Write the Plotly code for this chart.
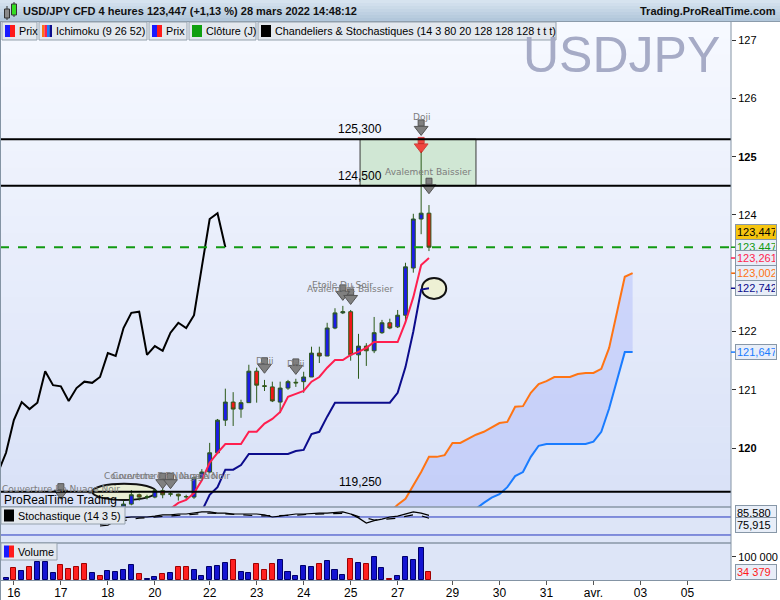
import plotly.graph_objects as go

W, H = 780, 600


def px(x):
    return x / W


def py(y):
    return 1 - y / H


# 4h bars: index 0 = first bar of the window, 54 = current bar (28 mars 12:00)
candle_idx = list(range(15, 55))
opens = [118.97, 119.04, 119.20, 119.16, 119.16, 119.27, 119.21, 119.21, 119.17, 119.16,
         119.49, 119.59, 119.92, 120.48, 120.79, 120.67, 120.78, 121.32, 121.07, 121.05,
         120.79, 121.03, 121.13, 121.14, 121.22, 121.63, 121.58, 122.06, 122.32, 122.34,
         121.60, 121.75, 121.67, 121.98, 122.15, 122.08, 122.28, 123.09, 123.93, 124.03]
highs = [119.10, 119.28, 119.22, 119.20, 119.30, 119.32, 119.26, 119.22, 119.20, 119.50,
         119.64, 120.09, 120.50, 121.02, 120.96, 120.83, 121.43, 121.38, 121.17, 121.14,
         121.14, 121.17, 121.19, 121.31, 121.74, 121.74, 122.15, 122.40, 122.44, 122.37,
         121.96, 121.80, 122.25, 122.20, 122.22, 122.37, 123.18, 124.02, 125.09, 124.17]
lows = [118.90, 119.02, 119.10, 119.12, 119.14, 119.14, 119.17, 119.10, 119.12, 119.13,
        119.45, 119.57, 119.90, 120.38, 120.38, 120.52, 120.78, 120.78, 120.98, 120.79,
        120.60, 121.00, 121.05, 120.95, 121.22, 121.46, 121.58, 122.04, 122.30, 121.50,
        121.19, 121.41, 121.63, 121.96, 122.04, 122.06, 122.15, 123.01, 123.67, 123.38]
closes = [119.04, 119.20, 119.16, 119.165, 119.27, 119.20, 119.215, 119.18, 119.165, 119.49,
          119.59, 119.92, 120.48, 120.79, 120.67, 120.78, 121.32, 121.08, 121.06, 120.81,
          121.03, 121.14, 121.12, 121.22, 121.63, 121.58, 122.06, 122.32, 122.34, 121.60,
          121.75, 121.67, 121.98, 122.15, 122.06, 122.28, 123.11, 123.93, 124.03, 123.447]

# Ichimoku (9 26 52)
tenkan_idx = list(range(21, 55))
tenkan = [118.96, 119.06, 119.11, 119.23, 119.45, 119.75, 119.92, 120.07, 120.07, 120.07,
          120.28, 120.28, 120.42, 120.50, 120.62, 120.88, 120.93, 120.98, 121.14, 121.22,
          121.38, 121.51, 121.51, 121.60, 121.65, 121.72, 121.82, 121.82, 121.82, 121.82,
          122.16, 122.59, 123.14, 123.261]
kijun_idx = list(range(25, 55))
kijun = [118.92, 119.20, 119.33, 119.63, 119.63, 119.71, 119.90, 119.90, 119.90, 119.90,
         119.90, 119.90, 119.95, 119.97, 120.24, 120.28, 120.54, 120.78, 120.78, 120.78,
         120.78, 120.78, 120.78, 120.78, 120.78, 120.95, 121.39, 122.00, 122.72, 122.742]
span_a_idx = list(range(49, 81))
span_a = [118.90, 119.03, 119.13, 119.35, 119.59, 119.85, 119.85, 119.88, 120.09, 120.09,
          120.16, 120.23, 120.28, 120.36, 120.43, 120.45, 120.71, 120.72, 120.95, 121.10,
          121.15, 121.22, 121.22, 121.22, 121.27, 121.29, 121.29, 121.36, 121.72, 122.32,
          122.94, 123.002]
span_b_idx = list(range(59, 81))
span_b = [118.90, 118.96, 119.06, 119.15, 119.21, 119.33, 119.52, 119.59, 119.85, 120.04,
          120.07, 120.07, 120.07, 120.07, 120.07, 120.07, 120.11, 120.28, 120.68, 121.17,
          121.647, 121.647]
lag = 26

# Stochastique (14 3 5)
stoch_idx = list(range(12, 55))
stoch_k = [50, 53, 67, 77, 80, 80, 80, 83, 87, 87, 90, 90, 93, 97, 97, 93, 93, 90, 90, 90,
           90, 87, 80, 83, 87, 90, 90, 92, 93, 93, 95, 97, 90, 77, 60, 68, 73, 80, 83, 90,
           97, 93, 85.58]
stoch_d = [55, 58, 63, 68, 73, 76, 78, 80, 82, 83, 85, 88, 91, 93, 93, 92, 90, 88, 86, 84,
           84, 84, 84, 84, 84, 86, 88, 89, 90, 91, 92, 92, 90, 81, 76, 70, 72, 75, 76, 82,
           87, 84, 75.915]

volume = [8600, 50300, 37400, 54600, 77400, 78700, 30100, 64500, 47300, 54600,
          68800, 30100, 15900, 37400, 34400, 41700, 64500, 25800, 4300, 11600,
          25800, 30100, 55900, 55900, 43000, 15900, 55900, 58800, 75000, 86000,
          34400, 30100, 68000, 43000, 68000, 86000, 35000, 16500, 60200, 55900,
          68800, 81700, 43000, 21500, 90300, 73100, 68800, 98900, 51600, 4300,
          15900, 98900, 86000, 137600, 34379]
vol_dir = ["b", "r", "b", "r", "b", "b", "b", "r", "r", "r",
           "r", "b", "r", "b", "b", "b", "b", "r", "b", "b",
           "r", "b", "r", "r", "b", "b", "b", "b", "b", "r",
           "b", "b", "r", "r", "r", "b", "b", "b", "b", "b",
           "r", "b", "b", "b", "r", "b", "r", "b", "b", "r",
           "b", "b", "b", "b", "r"]

day_ticks = [1, 7, 13, 19, 26, 32, 38, 44, 50, 57, 63, 69, 75, 81, 87]
day_labels = ["16", "17", "18", "20", "22", "23", "24", "25", "27",
              "29", "30", "31", "avr.", "03", "05"]

levels = [125.300, 124.500, 119.250]
last_price = 123.447

# detected patterns: bar, label, arrow tip price, label price
patterns = [
    (7, "Couverture En Nuage Noir", 119.15, 119.30),
    (20, "Couverture En Nuage Noir", 119.33, 119.52),
    (21, "Couverture En Nuage Noir", 119.33, 119.52),
    (33, "Doji", 121.31, 121.50),
    (37, "Doji", 121.29, 121.45),
    (43, "Etoile Du Soir", 122.56, 122.80),
    (44, "Avalement Baissier", 122.49, 122.73),
    (53, "Doji", 125.39, 125.68),
    (54, "Avalement Baissier", 124.39, 124.74),
]

PPU = 58.3  # pixels per yen on the price panel
FONT = "Liberation Sans, Arial, sans-serif"

fig = go.Figure()

# cloud
fig.add_trace(go.Scatter(x=span_a_idx, y=span_a, mode="lines",
                         line=dict(color="#ff7414", width=2), hoverinfo="skip"))
fig.add_trace(go.Scatter(x=span_b_idx, y=span_b, mode="lines", fill="tonexty",
                         fillcolor="rgba(170,182,250,0.42)",
                         line=dict(color="#1a7cff", width=2), hoverinfo="skip"))

fig.add_trace(go.Candlestick(
    x=candle_idx, open=opens, high=highs, low=lows, close=closes,
    increasing=dict(fillcolor="#1c1ce8", line=dict(color="#2c5a1a", width=1)),
    decreasing=dict(fillcolor="#f01818", line=dict(color="#2c5a1a", width=1)),
    whiskerwidth=0,
))

fig.add_trace(go.Scatter(x=tenkan_idx, y=tenkan, mode="lines",
                         line=dict(color="#ff1f4f", width=2)))
fig.add_trace(go.Scatter(x=kijun_idx, y=kijun, mode="lines",
                         line=dict(color="#0c0c8c", width=2)))

chikou_x = [k - lag for k, c in zip(candle_idx, closes) if k >= 25]
chikou_y = [c for k, c in zip(candle_idx, closes) if k >= 25]
fig.add_trace(go.Scatter(x=chikou_x, y=chikou_y, mode="lines",
                         line=dict(color="#000000", width=2)))

# pattern arrows
hi_by_idx = dict(zip(candle_idx, highs))
arrow_x = [p[0] for p in patterns]
fig.add_trace(go.Scatter(
    x=arrow_x, y=[p[2] + 11 / PPU for p in patterns], mode="markers",
    marker=dict(symbol="square", size=6, color="#808080",
                line=dict(color="#555555", width=1)), hoverinfo="skip"))
fig.add_trace(go.Scatter(
    x=arrow_x, y=[p[2] + 4.5 / PPU for p in patterns], mode="markers",
    marker=dict(symbol="triangle-down", size=12, color="#808080",
                line=dict(color="#555555", width=1)), hoverinfo="skip"))
# red alert arrow on the 125.09 high
fig.add_trace(go.Scatter(
    x=[53, 53], y=[hi_by_idx[53] + 11 / PPU, hi_by_idx[53] + 4.5 / PPU], mode="markers",
    marker=dict(symbol=["square", "triangle-down"], size=[6, 12], color="#ff0000",
                line=dict(color="#cc0000", width=1)), hoverinfo="skip"))

# stochastic
fig.add_trace(go.Scatter(x=stoch_idx, y=stoch_k, yaxis="y2", mode="lines",
                         line=dict(color="#000000", width=1.2)))
fig.add_trace(go.Scatter(x=stoch_idx, y=stoch_d, yaxis="y2", mode="lines",
                         line=dict(color="#000000", width=1.2, dash="dash")))

# volume
vol_fill = {"b": "#1414d2", "r": "#ff2020"}
vol_edge = {"b": "#00006a", "r": "#a00000"}
fig.add_trace(go.Bar(
    x=list(range(len(volume))), y=volume, yaxis="y3", width=0.64,
    marker=dict(color=[vol_fill[d] for d in vol_dir],
                line=dict(color=[vol_edge[d] for d in vol_dir], width=1)),
))

# ---------- decorations ----------
shapes = []


def mix(c0, c1, t):
    return "rgb(%d,%d,%d)" % tuple(round(a + (b - a) * t) for a, b in zip(c0, c1))


n = 30
for i in range(n):
    y0 = 22 + 485 * i / n
    y1 = 22 + 485 * (i + 1) / n + 0.6
    shapes.append(dict(type="rect", xref="paper", yref="paper", layer="below",
                       x0=0, x1=px(731), y0=py(y1), y1=py(y0),
                       fillcolor=mix((247, 249, 255), (216, 225, 247), (i + 0.5) / n),
                       line=dict(width=0)))
shapes.append(dict(type="rect", xref="paper", yref="paper", layer="below",
                   x0=0, x1=px(731), y0=py(580), y1=py(507),
                   fillcolor="#dde5f7", line=dict(width=0)))
# title bar
for i in range(7):
    shapes.append(dict(type="rect", xref="paper", yref="paper", layer="below",
                       x0=0, x1=1, y0=py(3 * (i + 1) + 0.5), y1=py(3 * i),
                       fillcolor=mix((214, 227, 239), (178, 199, 219), i / 6),
                       line=dict(width=0)))
shapes.append(dict(type="line", xref="paper", yref="paper", layer="above",
                   x0=0, x1=1, y0=py(21.5), y1=py(21.5), line=dict(color="#8b9bab", width=1)))
# title icon
shapes += [
    dict(type="line", xref="paper", yref="paper", x0=px(7), x1=px(7), y0=py(20), y1=py(6),
         line=dict(color="#333333", width=1)),
    dict(type="rect", xref="paper", yref="paper", x0=px(4.5), x1=px(9.5), y0=py(18), y1=py(9),
         fillcolor="#8a8a8a", line=dict(color="#333333", width=1)),
    dict(type="line", xref="paper", yref="paper", x0=px(14), x1=px(14), y0=py(17), y1=py(2),
         line=dict(color="#333333", width=1)),
    dict(type="rect", xref="paper", yref="paper", x0=px(11.5), x1=px(16.5), y0=py(15), y1=py(4),
         fillcolor="#33dd22", line=dict(color="#333333", width=1)),
]

# cloud / level drawings
shapes.append(dict(type="rect", xref="x", yref="y", layer="below",
                   x0=45.2, x1=60.0, y0=124.5, y1=125.3,
                   fillcolor="#d0e7d4", line=dict(color="#3a3a3a", width=1)))
shapes.append(dict(type="circle", xref="x", yref="y", layer="below",
                   x0=53.1, x1=56.2, y0=122.56, y1=122.92,
                   fillcolor="#eef0d4", line=dict(color="#111111", width=2)))
shapes.append(dict(type="circle", xref="x", yref="y", layer="below",
                   x0=11.0, x1=19.15, y0=119.11, y1=119.39,
                   fillcolor="#e9eed4", line=dict(color="#111111", width=2)))
for lv in levels:
    shapes.append(dict(type="line", xref="x domain", yref="y", layer="above",
                       x0=0, x1=1, y0=lv, y1=lv, line=dict(color="#000000", width=2)))
shapes.append(dict(type="line", xref="x domain", yref="y", layer="above",
                   x0=0, x1=1, y0=last_price, y1=last_price,
                   line=dict(color="#129a12", width=2, dash="dash")))
for lv in (80, 20):
    shapes.append(dict(type="line", xref="x domain", yref="y2", layer="below",
                       x0=0, x1=1, y0=lv, y1=lv, line=dict(color="#2536bf", width=1)))

# panel separators and frame
for yy in (507, 543):
    shapes.append(dict(type="line", xref="paper", yref="paper", layer="above",
                       x0=0, x1=px(731), y0=py(yy), y1=py(yy),
                       line=dict(color="#8796a6", width=1.5)))
shapes.append(dict(type="line", xref="paper", yref="paper", layer="above",
                   x0=px(731), x1=px(731), y0=py(580), y1=py(22),
                   line=dict(color="#8494a4", width=1)))
shapes.append(dict(type="line", xref="paper", yref="paper", layer="above",
                   x0=px(0.5), x1=px(0.5), y0=0, y1=py(22),
                   line=dict(color="#8494a4", width=1)))

# right-axis colored ticks
for val, col in [(last_price, "#129a12"), (tenkan[-1], "#ff1f4f"), (span_a[-1], "#ff7414"),
                 (kijun[-1], "#0c0c8c"), (span_b[-1], "#1a7cff")]:
    shapes.append(dict(type="line", xref="paper", yref="y", layer="above",
                       x0=px(731), x1=px(735), y0=val, y1=val, line=dict(color=col, width=1.5)))

# legend boxes
legend_items = [
    (2, 37, "Prix", ["#1a1aff", "#ff1a1a"]),
    (39, 147, "Ichimoku (9 26 52)", ["#ff7414", "#ff1f4f", "#1a7cff", "#0c0c8c"]),
    (149, 187, "Prix", ["#1a1aff", "#ff1a1a"]),
    (189, 256, "Clôture (J)", ["#10a010"]),
    (258, 556, "Chandeliers & Stochastiques (14 3 80 20 128 128 128 t t t)", ["#000000"]),
]
boxes = [(x0, x1, 22, 40, txt, cols) for x0, x1, txt, cols in legend_items]
boxes.append((1, 125, 507, 524, "Stochastique (14 3 5)", ["#000000"]))
boxes.append((1, 57, 543, 560, "Volume", ["#1a1aff", "#ff1a1a"]))

annotations = []
for x0, x1, y0, y1, txt, cols in boxes:
    shapes.append(dict(type="rect", xref="paper", yref="paper", layer="above",
                       x0=px(x0), x1=px(x1), y0=py(y1), y1=py(y0),
                       fillcolor="#e3e8ee", line=dict(color="#95a2ae", width=1)))
    iw = 10 / len(cols)
    for j, c in enumerate(cols):
        shapes.append(dict(type="rect", xref="paper", yref="paper", layer="above",
                           x0=px(x0 + 3 + j * iw), x1=px(x0 + 3 + (j + 1) * iw),
                           y0=py((y0 + y1) / 2 + 6), y1=py((y0 + y1) / 2 - 6),
                           fillcolor=c, line=dict(width=0)))
    annotations.append(dict(xref="paper", yref="paper", x=px(x0 + 15), y=py((y0 + y1) / 2),
                            xanchor="left", yanchor="middle", showarrow=False, text=txt,
                            font=dict(family=FONT, size=10.8, color="#000000")))

annotations += [
    dict(xref="paper", yref="paper", x=px(21), y=py(11), xanchor="left", yanchor="middle",
         showarrow=False,
         text="<b>USD/JPY CFD 4 heures 123,447 (+1,13 %) 28 mars 2022 14:48:12</b>",
         font=dict(family=FONT, size=11, color="#111111")),
    dict(xref="paper", yref="paper", x=px(778), y=py(11), xanchor="right", yanchor="middle",
         showarrow=False, text="<b>Trading.ProRealTime.com</b>",
         font=dict(family=FONT, size=11, color="#111111")),
    dict(xref="paper", yref="paper", x=px(621), y=py(55), xanchor="center", yanchor="middle",
         showarrow=False, text="USDJPY", font=dict(family=FONT, size=50, color="#a6abc6")),
    dict(xref="paper", yref="paper", x=px(2), y=py(500), xanchor="left", yanchor="middle",
         showarrow=False, text="ProRealTime Trading",
         font=dict(family=FONT, size=12, color="#000000")),
]
for lv in levels:
    annotations.append(dict(xref="paper", yref="y", x=px(384), y=lv, xanchor="right",
                            yanchor="bottom", yshift=1, showarrow=False,
                            text=f"{lv:.3f}".replace(".", ","),
                            font=dict(family=FONT, size=12, color="#000000")))
for k, label, tip, ly in patterns:
    annotations.append(dict(xref="x", yref="y", x=k, y=ly, showarrow=False, text=label,
                            font=dict(family="DejaVu Sans, sans-serif", size=9,
                                      color="#7c7c7c")))


def fmt(v):
    return f"{v:.3f}".replace(".", ",")


value_boxes = [
    ("y", last_price, fmt(last_price), "#000000", "#f6c510", 15),
    ("y", last_price, fmt(last_price), "#129a12", "#e8eef8", 0),
    ("y", tenkan[-1], fmt(tenkan[-1]), "#ff1f4f", "#e8eef8", 0),
    ("y", span_a[-1], fmt(span_a[-1]), "#ff7414", "#e8eef8", 0),
    ("y", kijun[-1], fmt(kijun[-1]), "#0c0c8c", "#e8eef8", 0),
    ("y", span_b[-1], fmt(span_b[-1]), "#1a7cff", "#e8eef8", 0),
    ("y2", stoch_k[-1], fmt(stoch_k[-1]), "#000000", "#e8eef8", 2),
    ("y2", stoch_d[-1], fmt(stoch_d[-1]), "#000000", "#e8eef8", -7),
    ("y3", volume[-1], f"{volume[-1]:,}".replace(",", " "), "#ff1a1a", "#e8eef8", 0),
]
for yref, val, txt, fc, bg, ys in value_boxes:
    annotations.append(dict(xref="paper", yref=yref, x=px(735), y=val, xanchor="left",
                            yanchor="middle", yshift=ys, showarrow=False, text=txt,
                            width=38, align="left", bgcolor=bg, bordercolor="#8797a7",
                            borderwidth=1, borderpad=1,
                            font=dict(family=FONT, size=11, color=fc)))

fig.update_layout(
    width=W, height=H,
    margin=dict(l=0, r=0, t=0, b=0),
    paper_bgcolor="#ffffff",
    plot_bgcolor="rgba(0,0,0,0)",
    showlegend=False,
    bargap=0,
    shapes=shapes,
    annotations=annotations,
    xaxis=dict(domain=[0, px(731)], anchor="y3", range=[-0.77, 92.56],
               tickvals=day_ticks, ticktext=day_labels, ticks="outside", ticklen=4,
               tickcolor="#555555", showline=True, linecolor="#8494a4", linewidth=1,
               showgrid=False, zeroline=False, rangeslider=dict(visible=False),
               ticklabelstandoff=-2,
               tickfont=dict(family=FONT, size=12, color="#000000"), automargin=False),
    yaxis=dict(domain=[py(507), py(22)], anchor="x", side="right", range=[118.99, 127.31],
               tickvals=[120, 121, 122, 123, 124, 125, 126, 127],
               ticktext=["<b>120</b>", "121", "122", "", "124", "<b>125</b>", "126", "127"],
               ticks="outside", ticklen=4, tickcolor="#333333", showgrid=False,
               zeroline=False, tickfont=dict(family=FONT, size=11, color="#000000"),
               automargin=False),
    yaxis2=dict(domain=[py(543), py(507)], anchor="x", side="right", range=[-6.7, 113.3],
                showticklabels=False, showgrid=False, zeroline=False, automargin=False),
    yaxis3=dict(domain=[py(580), py(543)], anchor="x", side="right", range=[0, 159000],
                tickvals=[100000], ticktext=["100 000"], ticks="outside", ticklen=4,
                tickcolor="#333333", showgrid=False, zeroline=False,
                tickfont=dict(family=FONT, size=11, color="#000000"), automargin=False),
)

fig.write_html("out.html", config={"displayModeBar": False},
               post_script="document.body.style.margin='0';")
